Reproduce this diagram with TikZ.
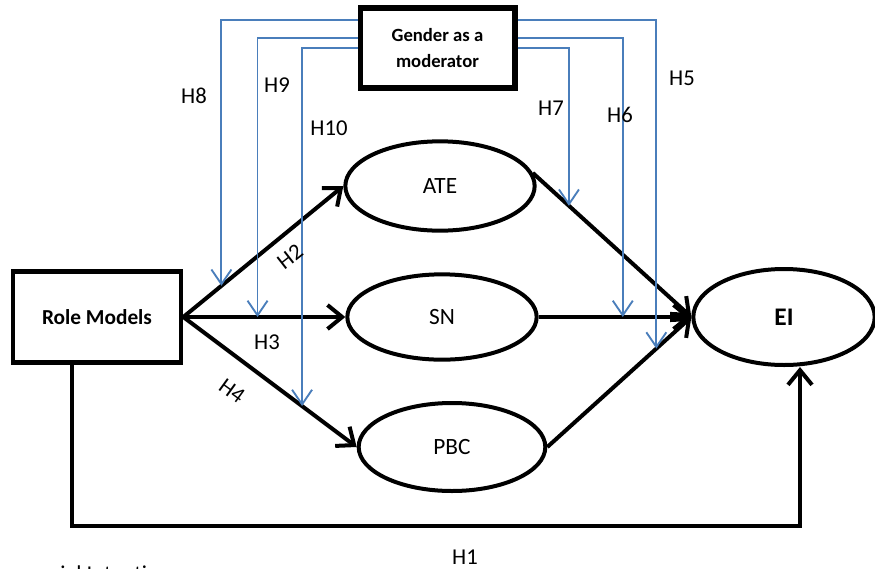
\documentclass[tikz,border=0pt]{standalone}
\usepackage{fontspec}
\setmainfont{Carlito}
\usetikzlibrary{shapes.geometric,arrows.meta,calc}
\definecolor{modblue}{RGB}{74,126,187}
\begin{document}
\begin{tikzpicture}[x=0.75pt,y=-0.75pt,
  flow/.style={line width=3pt,-{Straight Barb[length=11pt,width=18pt,line width=3pt]}},
  mod/.style={modblue,line width=1.4pt,-{Straight Barb[length=11pt,width=15pt,line width=1.4pt]}},
  construct/.style={ellipse,draw,line width=3pt,inner sep=0pt,font=\fontsize{17.5}{20}\selectfont},
  framebox/.style={rectangle,draw,line width=3.5pt,inner sep=0pt,align=center},
  hlabel/.style={font=\fontsize{17}{20}\selectfont}]
\useasboundingbox (0,0) rectangle (875,568);
\clip (0,0) rectangle (875,568);

% boxes
\node[framebox,minimum width=126pt,minimum height=68pt,
      font=\bfseries\fontsize{16}{19}\selectfont] (rm) at (97,317) {Role Models};
\node[framebox,line width=4pt,minimum width=116pt,minimum height=60pt,
      font=\bfseries\fontsize{14}{20}\selectfont] (g) at (437.5,48) {Gender as a\\moderator};

% constructs
\node[construct,minimum width=142pt,minimum height=67pt] (ate) at (440,186) {ATE};
\node[construct,minimum width=142pt,minimum height=64pt] (sn)  at (442,317) {SN};
\node[construct,minimum width=140pt,minimum height=66pt] (pbc) at (452,447) {PBC};
\node[construct,minimum width=136pt,minimum height=72pt,
      font=\bfseries\fontsize{19}{22}\selectfont] (ei) at (784,317) {EI};

% direct paths
\draw[flow] (rm.east) -- coordinate[pos=0.238] (h8end) (ate.west);
\draw[flow] (rm.east) -- coordinate[pos=0.458] (h9end) (sn.west);
\draw[flow] (rm.east) -- coordinate[pos=0.685] (h10end) (pbc.west);
\draw[flow] (ate.8) -- coordinate[pos=0.228] (h7end) (ei.west);
\draw[flow] (sn.east) -- coordinate[pos=0.551] (h6end) (ei.west);
\draw[flow] (pbc.east) -- coordinate[pos=0.757] (h5end) (ei.west);
\draw[flow] ([xshift=-18.75pt]rm.south) -- ++(0,161.5) -| ([xshift=12pt]ei.south);

% moderating paths
\draw[mod] ([yshift=21pt]g.west) -| (h8end);
\draw[mod] ([yshift=7.5pt]g.west) -| (h9end);
\draw[mod] (g.west) -| (h10end);
\draw[mod] (g.east) -| (h7end);
\draw[mod] ([yshift=7.5pt]g.east) -| (h6end);
\draw[mod] ([yshift=21pt]g.east) -| (h5end);

% hypothesis labels
\node[hlabel] (l1) at (465,557) {H1};
\node[hlabel,rotate=38] (l2) at (290,257) {H2};
\node[hlabel] (l3) at (267,342) {H3};
\node[hlabel,rotate=-36] (l4) at (232,391) {H4};
\node[hlabel] (l5) at (682,78) {H5};
\node[hlabel] (l6) at (620,115) {H6};
\node[hlabel] (l7) at (551,108) {H7};
\node[hlabel] (l8) at (194,96) {H8};
\node[hlabel] (l9) at (277,85) {H9};
\node[hlabel] (l10) at (329,128) {H10};

% caption text cut by the lower edge
\node[anchor=base west,inner sep=0pt,font=\fontsize{17}{20}\selectfont] (cap) at (60,581) {ial Intention};
\end{tikzpicture}
\end{document}
